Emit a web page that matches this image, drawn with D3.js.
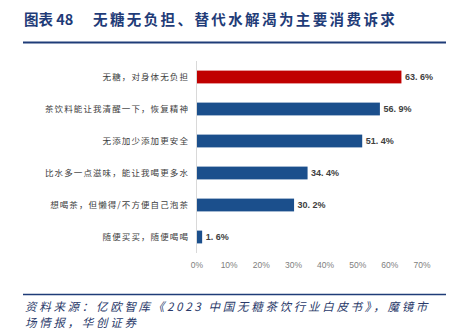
<!DOCTYPE html>
<html>
<head>
<meta charset="utf-8">
<script src="https://cdn.jsdelivr.net/npm/d3@7"></script>
<style>
  html, body { margin: 0; padding: 0; background: #fff; }
  svg { display: block; }
</style>
</head>
<body>
<svg id="chart" width="457" height="332"></svg>
<script>
// Consumer demands for sugar-free tea drinks (share of respondents, %)
const categories = [
  "无糖，对身体无负担",
  "茶饮料能让我清醒一下，恢复精神",
  "无添加少添加更安全",
  "比水多一点滋味，能让我喝更多水",
  "想喝茶，但懒得/不方便自己泡茶",
  "随便买买，随便喝喝"
];
const values = [63.6, 56.9, 51.4, 34.4, 30.2, 1.6];
const tickValues = [0, 10, 20, 30, 40, 50, 60, 70];

const titleNumber = "图表 48";
const titleText = "无糖无负担、替代水解渴为主要消费诉求";
const sourceLines = [
  "资料来源：亿欧智库《2023 中国无糖茶饮行业白皮书》，魔镜市",
  "场情报，华创证券"
];

const svg = d3.select("#chart");
const cjk = "'Noto Sans CJK SC', 'Noto Sans', sans-serif";
const navy = "#1F3C78";

// Title and rules
svg.append("text")
  .attr("x", 24).attr("y", 25)
  .attr("font-family", cjk)
  .attr("font-size", 14.5)
  .attr("font-weight", 700)
  .attr("fill", navy)
  .text(titleNumber);

svg.append("text")
  .attr("x", 93).attr("y", 25)
  .attr("font-family", cjk)
  .attr("font-size", 14.5)
  .attr("font-weight", 700)
  .attr("letter-spacing", 2.4)
  .attr("fill", navy)
  .text(titleText);

svg.append("line")
  .attr("x1", 23).attr("x2", 446).attr("y1", 42.5).attr("y2", 42.5)
  .attr("stroke", navy).attr("stroke-width", 2);

svg.append("line")
  .attr("x1", 23).attr("x2", 446).attr("y1", 294.5).attr("y2", 294.5)
  .attr("stroke", navy).attr("stroke-width", 1.5);

// Plot scales
const x = d3.scaleLinear().domain([0, 70]).range([196.5, 421.5]);
const y = d3.scaleBand().domain(categories).range([61, 253]).paddingInner(0.6).paddingOuter(0.3);

// Vertical baseline
svg.append("line")
  .attr("x1", x(0)).attr("x2", x(0))
  .attr("y1", 61).attr("y2", 253)
  .attr("stroke", "#d9d9d9").attr("stroke-width", 1);

// Bars
svg.append("g").selectAll("rect")
  .data(values)
  .join("rect")
  .attr("x", x(0) + 0.5)
  .attr("y", (d, i) => y(categories[i]))
  .attr("width", d => x(d) - x(0))
  .attr("height", y.bandwidth())
  .attr("fill", (d, i) => i === 0 ? "#C00000" : "#1B4F8C");

// Value labels
svg.append("g").selectAll("text")
  .data(values)
  .join("text")
  .attr("x", d => x(d) + 4)
  .attr("y", (d, i) => y(categories[i]) + y.bandwidth() / 2)
  .attr("dy", "0.35em")
  .attr("font-family", "'Liberation Sans', Arial, sans-serif")
  .attr("font-size", 9)
  .attr("font-weight", 700)
  .attr("fill", "#404040")
  .text(d => d.toFixed(1).replace(".", ". ") + "%");

// Category axis labels
svg.append("g").selectAll("text")
  .data(categories)
  .join("text")
  .attr("x", 189)
  .attr("y", d => y(d) + y.bandwidth() / 2)
  .attr("dy", "0.35em")
  .attr("text-anchor", "end")
  .attr("font-family", cjk)
  .attr("font-size", 8.5)
  .attr("fill", "#404040")
  .attr("letter-spacing", 1.1)
  .text(d => d);

// Percentage axis
const xAxis = d3.axisBottom(x)
  .tickValues(tickValues)
  .tickFormat(d => d + "%")
  .tickSize(0)
  .tickPadding(0);

const gx = svg.append("g")
  .attr("transform", "translate(0,262)")
  .call(xAxis);
gx.select(".domain").remove();
gx.selectAll("text")
  .attr("font-family", "'Liberation Sans', Arial, sans-serif")
  .attr("font-size", 8.5)
  .attr("fill", "#808080");

// Source note
svg.append("g").selectAll("text")
  .data(sourceLines)
  .join("text")
  .attr("x", 25)
  .attr("y", (d, i) => 311 + i * 16)
  .attr("font-family", cjk)
  .attr("font-size", 11.5)
  .attr("font-style", "italic")
  .attr("letter-spacing", 2.7)
  .attr("fill", "#2a3a6a")
  .text(d => d);
</script>
</body>
</html>
